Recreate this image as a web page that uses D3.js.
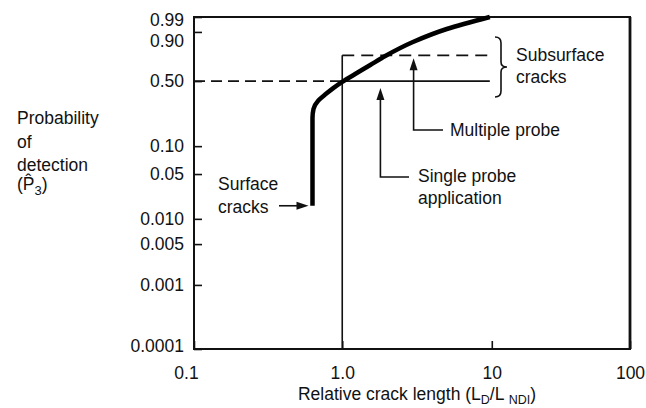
<!DOCTYPE html>
<html>
<head>
<meta charset="utf-8">
<script src="https://cdn.jsdelivr.net/npm/d3@7"></script>
<style>
  body { margin: 0; background: #fff; }
  svg { display: block; background: #fff; }
  text { font-family: "Liberation Sans", Arial, Helvetica, sans-serif; fill: #111; }
</style>
</head>
<body>
<svg id="chart" width="646" height="408"></svg>
<script>
// Probability of detection for surface cracks vs relative crack length
const crackLength   = [0.63, 0.63, 0.64, 0.69, 0.77, 0.87, 1.0, 1.22, 1.54, 1.94, 2.97, 5.0, 9.7];
const detectionProb = [0.016, 0.20, 0.25, 0.31, 0.36, 0.42, 0.49, 0.544, 0.606, 0.675, 0.798, 0.917, 0.99];

// Subsurface crack steps (single and multiple probe application)
const stepStart = 1.0;
const stepEnd = 9.7;
const singleProbeLevel = 0.5;
const multipleProbeLevel = 0.68;
const singleProbeArrowX = 1.8;
const multipleProbeArrowX = 3.0;

// Axis ticks
const xTicks = [0.1, 1, 10, 100];
const xTickLabels = ["0.1", "1.0", "10", "100"];
const yTicks = [0.0001, 0.001, 0.005, 0.01, 0.05, 0.1, 0.5, 0.9, 0.99];
const yTickLabels = ["0.0001", "0.001", "0.005", "0.010", "0.05", "0.10", "0.50", "0.90", "0.99"];

// Where each tick sits along its axis (fraction of axis length), the paper axes are not uniform
const xStops = [0, 0.34, 0.683, 1];
const yStops = [0, 0.193, 0.316, 0.392, 0.527, 0.611, 0.807, 0.955, 1];

const svg = d3.select("#chart");
const L = 194, R = 630, T = 17, B = 349;
const W = R - L, H = B - T;
const FS = 17.5;

const x = d3.scaleLog().domain(xTicks).range(xStops.map(f => L + f * W));
const y = d3.scaleLog().domain(yTicks).range(yStops.map(f => B - f * H));

// Y axis ticks (inward) and labels
const yAxis = svg.append("g")
  .attr("transform", `translate(${L},0)`)
  .call(d3.axisLeft(y).tickValues(yTicks).tickSizeInner(-8).tickSizeOuter(0).tickPadding(10)
    .tickFormat((d, i) => yTickLabels[i]));
yAxis.select(".domain").remove();
yAxis.selectAll(".tick line").attr("stroke", "#111").attr("stroke-width", 1.6);
yAxis.selectAll(".tick text").attr("font-size", FS).attr("fill", "#111")
  .attr("font-family", '"Liberation Sans", Arial, sans-serif');

// keep y labels inside the frame and apart from each other
{
  const ticks = yAxis.selectAll(".tick").nodes()
    .map(n => ({ n, ty: y(d3.select(n).datum()) }))
    .sort((a, b) => a.ty - b.ty);
  let prev = -Infinity;
  ticks.forEach(t => {
    let ly = Math.min(Math.max(t.ty, T + 3), B - 3);
    ly = Math.max(ly, prev + 21);
    prev = ly;
    d3.select(t.n).select("text").attr("y", ly - t.ty);
  });
}

// X axis ticks (inward) and labels
const xAxis = svg.append("g")
  .attr("transform", `translate(0,${B})`)
  .call(d3.axisBottom(x).tickValues(xTicks).tickSizeInner(-8).tickSizeOuter(0).tickPadding(18)
    .tickFormat((d, i) => xTickLabels[i]));
xAxis.select(".domain").remove();
xAxis.selectAll(".tick line").attr("stroke", "#111").attr("stroke-width", 1.6);
xAxis.selectAll(".tick text").attr("font-size", FS).attr("fill", "#111")
  .attr("font-family", '"Liberation Sans", Arial, sans-serif');
xAxis.selectAll(".tick text").filter(d => d === 0.1).attr("x", -8);

// Frame
svg.append("rect").attr("x", L).attr("y", T).attr("width", W).attr("height", H)
  .attr("fill", "none").attr("stroke", "#111").attr("stroke-width", 2);
svg.append("line").attr("x1", R).attr("x2", R).attr("y1", T).attr("y2", B)
  .attr("stroke", "#111").attr("stroke-width", 2.8);

// Reference dashed line at 0.50 up to L_D/L_NDI = 1
svg.append("line")
  .attr("x1", x(0.1)).attr("x2", x(stepStart))
  .attr("y1", y(singleProbeLevel)).attr("y2", y(singleProbeLevel))
  .attr("stroke", "#111").attr("stroke-width", 1.6).attr("stroke-dasharray", "11,6");

// Subsurface: vertical at 1.0, single probe (solid), multiple probe (dashed)
svg.append("line")
  .attr("x1", x(stepStart)).attr("x2", x(stepStart))
  .attr("y1", y(yTicks[0])).attr("y2", y(multipleProbeLevel))
  .attr("stroke", "#111").attr("stroke-width", 1.6);
svg.append("line")
  .attr("x1", x(stepStart)).attr("x2", x(stepEnd))
  .attr("y1", y(singleProbeLevel)).attr("y2", y(singleProbeLevel))
  .attr("stroke", "#111").attr("stroke-width", 1.6);
svg.append("line")
  .attr("x1", x(stepStart)).attr("x2", x(stepEnd))
  .attr("y1", y(multipleProbeLevel)).attr("y2", y(multipleProbeLevel))
  .attr("stroke", "#111").attr("stroke-width", 1.6).attr("stroke-dasharray", "12,7");

// Surface crack POD curve
const curveData = crackLength.map((c, i) => [c, detectionProb[i]]);
svg.append("path")
  .datum(curveData)
  .attr("fill", "none").attr("stroke", "#000").attr("stroke-width", 4.5)
  .attr("d", d3.line().x(d => x(d[0])).y(d => y(d[1])).curve(d3.curveMonotoneY));

// Arrow helper: polyline ending with a filled head at the last point
function shorten(points) {
  const [px, py] = points[points.length - 2];
  const [tx, ty] = points[points.length - 1];
  const d = Math.hypot(tx - px, ty - py);
  return [tx - (tx - px) * 8 / d, ty - (ty - py) * 8 / d];
}
function arrow(points) {
  svg.append("path")
    .attr("d", d3.line()(points.slice(0, -1).concat([shorten(points)])))
    .attr("fill", "none").attr("stroke", "#111").attr("stroke-width", 1.6);
  const [px, py] = points[points.length - 2];
  const [tx, ty] = points[points.length - 1];
  const a = Math.atan2(ty - py, tx - px);
  const len = 12, half = 4;
  const bx = tx - len * Math.cos(a), by = ty - len * Math.sin(a);
  svg.append("path")
    .attr("d", `M${tx},${ty}L${bx - half * Math.sin(a)},${by + half * Math.cos(a)}` +
               `L${bx + half * Math.sin(a)},${by - half * Math.cos(a)}Z`)
    .attr("fill", "#111");
}

function label(lines, x0, yc, gap) {
  const t = svg.append("text").attr("font-size", FS);
  lines.forEach((s, i) => t.append("tspan").attr("x", x0).attr("y", yc + i * gap).attr("dy", "0.35em").text(s));
  return t;
}

// Surface cracks annotation
const surfaceY = y(detectionProb[0]);
arrow([[279, surfaceY], [x(crackLength[0]) - 4, surfaceY]]);
label(["Surface", "cracks"], 218, 184, 23);

// Multiple probe annotation
const mpx = x(multipleProbeArrowX);
arrow([[443, 130], [mpx, 130], [mpx, y(multipleProbeLevel) + 3]]);
label(["Multiple probe"], 450, 130, 0);

// Single probe annotation
const spx = x(singleProbeArrowX);
arrow([[409, 177], [spx, 177], [spx, y(singleProbeLevel) + 7]]);
label(["Single probe", "application"], 418, 176, 22);

// Brace for subsurface cracks
{
  const x0 = 495, top = 37, bot = 97, mid = (top + bot) / 2, s = 6;
  svg.append("path")
    .attr("d", `M${x0},${top} Q${x0 + s},${top} ${x0 + s},${top + 6} L${x0 + s},${mid - 5} ` +
               `Q${x0 + s},${mid} ${x0 + 2 * s},${mid} Q${x0 + s},${mid} ${x0 + s},${mid + 5} ` +
               `L${x0 + s},${bot - 6} Q${x0 + s},${bot} ${x0},${bot}`)
    .attr("fill", "none").attr("stroke", "#111").attr("stroke-width", 1.6);
  label(["Subsurface", "cracks"], 516, 55, 22);
}

// Y axis title
{
  label(["Probability", "of", "detection"], 17, 118, 23.5);
  const t = svg.append("text").attr("font-size", FS).attr("x", 17).attr("y", 184).attr("dy", "0.35em");
  t.append("tspan").text("(P\u0302");
  t.append("tspan").attr("font-size", 13).attr("dy", 5).text("3");
  t.append("tspan").attr("dy", -5).text(")");
}

// X axis title
{
  const t = svg.append("text").attr("font-size", FS).attr("x", 417).attr("y", 394)
    .attr("dy", "0.35em").attr("text-anchor", "middle");
  t.append("tspan").text("Relative crack length (L");
  t.append("tspan").attr("font-size", 12.5).attr("dy", 3.5).text("D");
  t.append("tspan").attr("dy", -3.5).text("/L ");
  t.append("tspan").attr("font-size", 12.5).attr("dy", 3.5).text("NDI");
  t.append("tspan").attr("dy", -3.5).text(")");
}
</script>
</body>
</html>
